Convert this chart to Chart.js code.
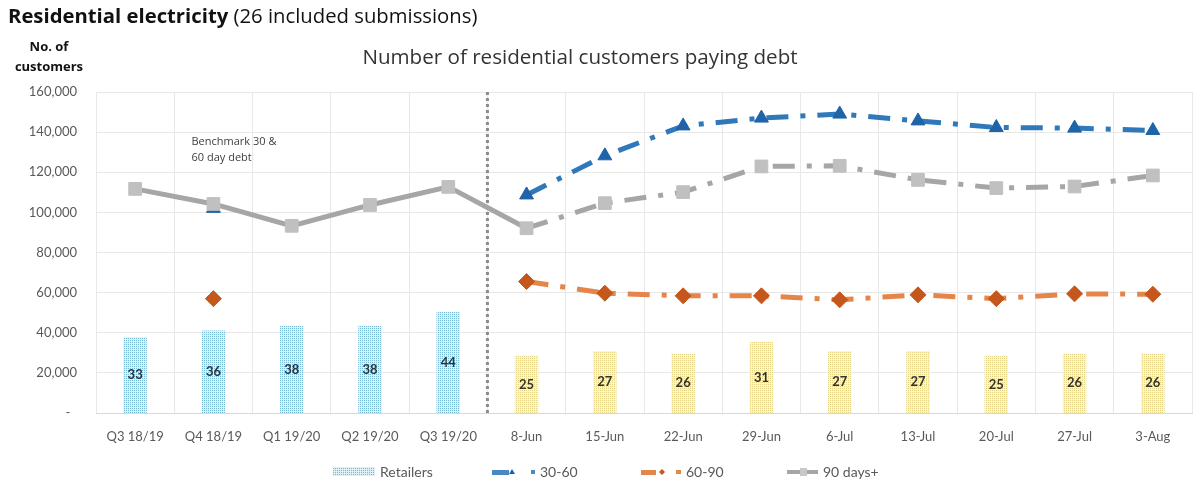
<!DOCTYPE html>
<html lang="en">
<head>
  <meta charset="UTF-8">
  <title>Residential electricity</title>
  <script src="https://cdn.jsdelivr.net/npm/chart.js"></script>
  <style>
    body {
      margin: 0;
      background: #fff;
      width: 1202px;
      height: 479px;
      overflow: hidden;
      position: relative;
      font-family: 'Open Sans', sans-serif;
    }
    #chart { position: absolute; left: 0; top: 0; }
    .head {
      position: absolute; left: 8px; top: 1px;
      font-size: 20.3px; color: #111; white-space: nowrap;
    }
    .ytitle {
      position: absolute; left: 0; top: 36px; width: 98px;
      text-align: center; font-weight: 700; font-size: 13px; line-height: 20px; color: #111;
    }
    .ctitle {
      position: absolute; left: 280px; width: 600px; top: 42px;
      text-align: center; font-size: 20.6px; color: #333;
    }
    .legend-item {
      position: absolute; top: 462px; height: 18px;
      display: flex; align-items: center;
      font-family: 'Lato', sans-serif; font-size: 14px; color: #595959;
    }
    .legend-item canvas { margin-right: 5px; }
  </style>
</head>
<body>

  <canvas id="chart" width="1202" height="479"></canvas>
  <div class="head"><b>Residential electricity</b> (26 included submissions)</div>
  <div class="ytitle">No. of<br>customers</div>
  <div class="ctitle">Number of residential customers paying debt</div>
  <div id="legend"></div>

  <script>
    const categories = ['Q3 18/19', 'Q4 18/19', 'Q1 19/20', 'Q2 19/20', 'Q3 19/20',
      '8-Jun', '15-Jun', '22-Jun', '29-Jun', '6-Jul', '13-Jul', '20-Jul', '27-Jul', '3-Aug'];
    const retailers = [33, 36, 38, 38, 44, 25, 27, 26, 31, 27, 27, 25, 26, 26];
    const debt30to60 = [null, 102000, null, null, null, 108700, 128200, 143100, 147000, 149000, 145600, 142300, 142000, 140800];
    const debt60to90 = [null, 57000, null, null, null, 65500, 59700, 58400, 58400, 56400, 58900, 57000, 59400, 59200];
    const debt90plus = [111700, 104200, 93300, 103700, 112700, 92100, 104600, 110100, 122900, 123200, 116200, 112100, 112900, 118400];
    const seriesNames = ['Retailers', '30-60', '60-90', '90 days+'];
    const weeklyStart = 5;   // first weekly category, quarterly before it
    const note = ['Benchmark 30 &', '60 day debt'];

    const dashDot = [22, 12, 5, 12];

    function dots(bg, fg) {
      const c = document.createElement('canvas');
      c.width = 2; c.height = 2;
      const g = c.getContext('2d');
      g.fillStyle = bg; g.fillRect(0, 0, 2, 2);
      g.fillStyle = fg; g.fillRect(0, 0, 1, 1);
      return g.createPattern(c, 'repeat');
    }
    const bluePattern = dots('#dcf0f7', '#78b9d6');
    const yellowPattern = dots('#faf5d4', '#e3d488');
    const barColors = categories.map((c, i) => i < weeklyStart ? bluePattern : yellowPattern);

    const extras = {
      id: 'extras',
      beforeDatasetsDraw(chart) {
        const { ctx, chartArea, scales } = chart;
        const x = scales.x.getPixelForValue(weeklyStart - 0.5);
        ctx.save();
        ctx.strokeStyle = '#8c8c8c';
        ctx.lineWidth = 3;
        ctx.setLineDash([3, 3]);
        ctx.beginPath();
        ctx.moveTo(x, chartArea.top);
        ctx.lineTo(x, chartArea.bottom);
        ctx.stroke();
        ctx.restore();
      },
      afterDatasetsDraw(chart) {
        const { ctx, scales } = chart;
        ctx.save();
        ctx.font = 'bold 13px Lato';
        ctx.fillStyle = '#333';
        ctx.textAlign = 'center';
        ctx.textBaseline = 'middle';
        chart.getDatasetMeta(0).data.forEach((bar, i) => {
          ctx.fillText(retailers[i], bar.x, (bar.y + bar.base) / 2);
        });
        ctx.font = '11px "Open Sans"';
        ctx.fillStyle = '#404040';
        ctx.textAlign = 'left';
        const nx = scales.x.getPixelForValue(0.72);
        const ny = scales.y.getPixelForValue(135000);
        note.forEach((t, i) => ctx.fillText(t, nx, ny + i * 16));
        ctx.restore();
      }
    };

    new Chart(document.getElementById('chart'), {
      type: 'bar',
      data: {
        labels: categories,
        datasets: [
          {
            label: seriesNames[0], data: retailers, yAxisID: 'y2',
            backgroundColor: barColors, barPercentage: 0.3, categoryPercentage: 1, order: 10
          },
          {
            type: 'line', label: seriesNames[1], data: debt30to60,
            borderColor: '#2f78ba', borderWidth: 5, borderDash: dashDot,
            pointStyle: 'triangle', pointRadius: 8, pointBackgroundColor: '#1f64a8',
            pointBorderColor: '#1f64a8', pointBorderWidth: 1, order: 3
          },
          {
            type: 'line', label: seriesNames[2], data: debt60to90,
            borderColor: '#e5854a', borderWidth: 5, borderDash: dashDot,
            pointStyle: 'rectRot', pointRadius: 8, pointBackgroundColor: '#c5571c',
            pointBorderColor: '#c5571c', pointBorderWidth: 1, order: 2
          },
          {
            type: 'line', label: seriesNames[3], data: debt90plus,
            borderColor: '#a6a6a6', borderWidth: 5,
            segment: { borderDash: c => c.p0DataIndex >= weeklyStart ? dashDot : undefined },
            pointStyle: 'rect', pointRadius: 9, pointBackgroundColor: '#c0c0c0',
            pointBorderColor: '#c0c0c0', pointBorderWidth: 1, order: 1
          }
        ]
      },
      options: {
        responsive: false,
        animation: false,
        layout: { padding: { left: 6, right: 1, top: 92, bottom: 36 } },
        plugins: { legend: { display: false }, tooltip: { enabled: false } },
        scales: {
          x: {
            grid: { color: '#e8e8e8', drawTicks: false },
            border: { color: '#d9d9d9' },
            ticks: { color: '#595959', font: { family: 'Lato', size: 13 }, padding: 16, maxRotation: 0 },
            afterFit: s => { s.height = 30; }
          },
          y: {
            min: 0, max: 160000,
            grid: { color: '#e8e8e8', drawTicks: false },
            border: { display: false },
            ticks: {
              stepSize: 20000, padding: 19, color: '#595959',
              font: { family: 'Lato', size: 13 },
              callback: v => v === 0 ? '-  ' : v.toLocaleString('en-US')
            },
            afterFit: s => { s.width = 90; }
          },
          y2: { display: false, min: 0, max: 140 }
        }
      },
      plugins: [extras]
    });

    // legend symbols
    function icon(w, draw) {
      const c = document.createElement('canvas');
      c.width = w; c.height = 14;
      draw(c.getContext('2d'));
      return c;
    }
    function tri(g, x, y, r, col) {
      g.fillStyle = col; g.beginPath();
      g.moveTo(x, y - r); g.lineTo(x + r, y + r * 0.7); g.lineTo(x - r, y + r * 0.7); g.closePath(); g.fill();
    }
    function diamond(g, x, y, r, col) {
      g.fillStyle = col; g.beginPath();
      g.moveTo(x, y - r); g.lineTo(x + r, y); g.lineTo(x, y + r); g.lineTo(x - r, y); g.closePath(); g.fill();
    }
    const icons = [
      icon(42, g => { g.fillStyle = bluePattern; g.fillRect(0, 3, 42, 9); }),
      icon(43, g => {
        g.fillStyle = '#4a88c2'; g.fillRect(0, 6, 17, 5);
        tri(g, 20, 8, 3, '#1f64a8');
        g.fillStyle = '#4a88c2'; g.fillRect(39, 6, 4, 4);
      }),
      icon(40, g => {
        g.fillStyle = '#e5854a'; g.fillRect(0, 6, 15, 5);
        diamond(g, 21, 8, 3, '#c5571c');
        g.fillStyle = '#e5854a'; g.fillRect(35, 6, 5, 4);
      }),
      icon(31, g => {
        g.fillStyle = '#a6a6a6'; g.fillRect(0, 6, 31, 4);
        g.fillStyle = '#c8c8c8'; g.fillRect(13, 4, 7, 8);
      })
    ];
    const legendLeft = [333, 492, 641, 787];
    const legend = document.getElementById('legend');
    seriesNames.forEach((name, i) => {
      const item = document.createElement('div');
      item.className = 'legend-item';
      item.style.left = legendLeft[i] + 'px';
      item.appendChild(icons[i]);
      item.appendChild(document.createTextNode(name));
      legend.appendChild(item);
    });
  </script>
</body>
</html>
